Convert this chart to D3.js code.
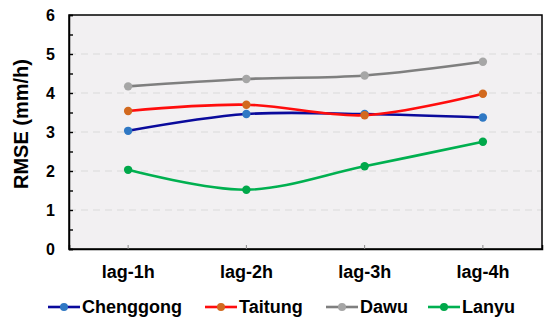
<!DOCTYPE html>
<html>
<head>
<meta charset="utf-8">
<script src="https://cdn.jsdelivr.net/npm/d3@7"></script>
<style>
  body { margin: 0; background: #fff; }
  text { font-family: "Liberation Sans", Arial, sans-serif; font-weight: bold; fill: #000; }
</style>
</head>
<body>
<svg id="chart"></svg>
<script>
const categories = ['lag-1h', 'lag-2h', 'lag-3h', 'lag-4h'];
const chenggong = [3.03, 3.46, 3.46, 3.37];
const taitung = [3.54, 3.70, 3.43, 3.98];
const dawu = [4.17, 4.36, 4.45, 4.80];
const lanyu = [2.03, 1.52, 2.12, 2.75];
const yTicks = [0, 1, 2, 3, 4, 5, 6];

const series = [
  { name: 'Chenggong', values: chenggong, line: '#0a0a9c', dot: '#2f78c4' },
  { name: 'Taitung', values: taitung, line: '#ff0d0d', dot: '#d2691e' },
  { name: 'Dawu', values: dawu, line: '#7f7f7f', dot: '#a6a6a6' },
  { name: 'Lanyu', values: lanyu, line: '#00b050', dot: '#00a84a' }
];

const svg = d3.select('#chart').attr('width', 550).attr('height', 324);
const margin = { top: 15, right: 8, bottom: 75, left: 69 };
const width = 550 - margin.left - margin.right;
const height = 324 - margin.top - margin.bottom;

const x = d3.scaleBand().domain(categories).range([0, width]).padding(0);
const y = d3.scaleLinear().domain([0, 6]).range([height, 0]);

const chart = svg.append('g').attr('transform', `translate(${margin.left},${margin.top})`);

chart.append('rect')
  .attr('width', width).attr('height', height)
  .attr('fill', '#f2f0f2');

// dashed gridlines
chart.selectAll('.grid')
  .data(yTicks.filter(d => d > 0 && d < 6))
  .enter().append('line')
  .attr('x1', 0).attr('x2', width)
  .attr('y1', d => y(d)).attr('y2', d => y(d))
  .attr('stroke', '#dadada').attr('stroke-width', 1.2)
  .attr('stroke-dasharray', '7,5');

// frame top/right
chart.append('rect')
  .attr('width', width).attr('height', height)
  .attr('fill', 'none').attr('stroke', '#000').attr('stroke-width', 1.5);

// y axis with minor ticks
const yAxis = chart.append('g')
  .call(d3.axisLeft(y).tickValues(d3.range(0, 6.01, 0.5)).tickSize(-4).tickFormat(''));
yAxis.select('.domain').attr('stroke-width', 1.5);
yAxis.selectAll('.tick line').attr('stroke-width', 1.4);

chart.selectAll('.ylab')
  .data(yTicks)
  .enter().append('text')
  .attr('x', -14).attr('y', d => y(d))
  .attr('dy', '0.36em')
  .attr('text-anchor', 'end')
  .style('font-size', '16px')
  .text(d => d);

// x axis
const xAxis = chart.append('g')
  .attr('transform', `translate(0,${height})`)
  .call(d3.axisBottom(x).tickSize(-4).tickPadding(20));
xAxis.select('.domain').attr('stroke-width', 1.5);
xAxis.selectAll('.tick line').attr('stroke', '#888').attr('stroke-width', 1);
xAxis.selectAll('.tick text').style('font-size', '18px').attr('dy', '0.71em').attr('y', 16);

// y title
svg.append('text')
  .attr('transform', `translate(28,${margin.top + height / 2 - 8}) rotate(-90)`)
  .attr('text-anchor', 'middle')
  .style('font-size', '20px')
  .text('RMSE (mm/h)');

const cx = d => x(d) + x.bandwidth() / 2;
const line = d3.line()
  .x((v, i) => cx(categories[i]))
  .y(v => y(v))
  .curve(d3.curveCatmullRom.alpha(0.5));

const g = chart.selectAll('.series')
  .data(series)
  .enter().append('g');

g.append('path')
  .attr('d', d => line(d.values))
  .attr('fill', 'none')
  .attr('stroke', d => d.line)
  .attr('stroke-width', 2.6);

g.selectAll('circle')
  .data(d => d.values.map((v, i) => ({ v, c: categories[i], color: d.dot })))
  .enter().append('circle')
  .attr('cx', d => cx(d.c))
  .attr('cy', d => y(d.v))
  .attr('r', 4.2)
  .attr('fill', d => d.color);

// legend
const legendX = [48, 205, 326, 428];
const legend = svg.selectAll('.legend')
  .data(series)
  .enter().append('g')
  .attr('transform', (d, i) => `translate(${legendX[i]},307)`);

legend.append('line')
  .attr('x1', 0).attr('x2', 32)
  .attr('stroke', d => d.line).attr('stroke-width', 2.6);
legend.append('circle')
  .attr('cx', 16).attr('r', 4)
  .attr('fill', d => d.dot);
legend.append('text')
  .attr('x', 34).attr('dy', '0.36em')
  .style('font-size', '18px')
  .text(d => d.name);
</script>
</body>
</html>
